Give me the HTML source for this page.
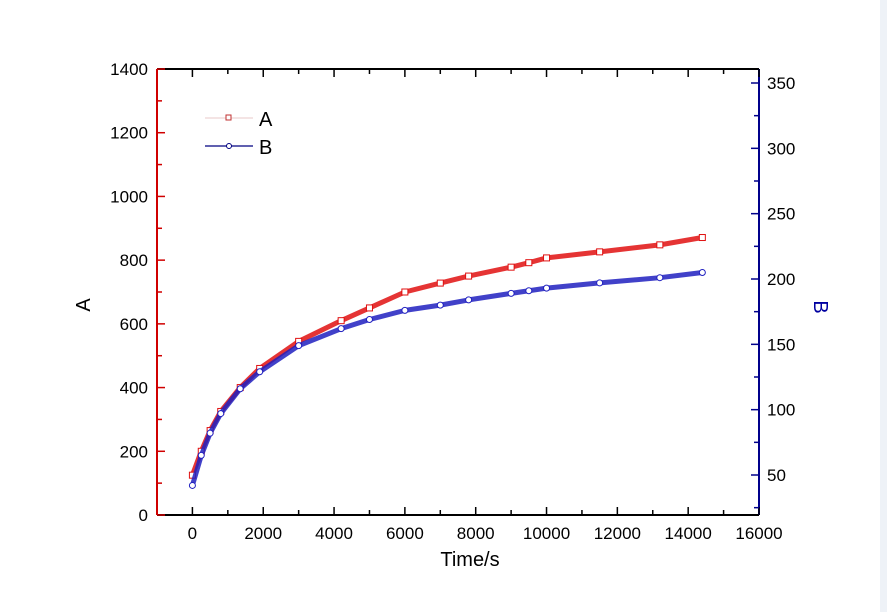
<!DOCTYPE html>
<html><head><meta charset="utf-8"><style>
body{margin:0;background:#fff;overflow:hidden;}
svg{display:block;}
svg text{font-family:"Liberation Sans",Arial,sans-serif;}
</style></head><body>
<svg id="chart" width="887" height="612" xmlns="http://www.w3.org/2000/svg">
<rect x="0" y="0" width="887" height="612" fill="#fff"/>
<rect x="880" y="0" width="7" height="612" fill="#eef2f7"/>
<g id="plot"></g>
</svg>
<script>
const times=[0,250,500,800,1350,1900,3000,4200,5000,6000,7000,7800,9000,9500,10000,11500,13200,14400];
const seriesA=[125,200,265,325,400,460,545,610,650,700,728,750,778,792,807,826,848,871];
const seriesB=[42,65,82,97,116,129,149,162,169,176,180,184,189,191,193,197,201,205];
const xTicks=[0,2000,4000,6000,8000,10000,12000,14000,16000];
const aTicks=[0,200,400,600,800,1000,1200,1400];
const bTicks=[50,100,150,200,250,300,350];
const L=157,R=759,T=69,B=515;
const X=v=>L+(v+1000)/17000*(R-L);
const YA=v=>B-v/1400*(B-T);
const YB=v=>475-(v-50)*(392/300);
const NS="http://www.w3.org/2000/svg";
const g=document.getElementById('plot');
function mk(t,a,p){const e=document.createElementNS(NS,t);for(const k in a)e.setAttribute(k,a[k]);(p||g).appendChild(e);return e;}
let e=mk('line',{x1:L,y1:T,x2:R,y2:T,stroke:'#000','stroke-width':2});


e=mk('line',{x1:L,y1:B,x2:R,y2:B,stroke:'#000','stroke-width':2});


e=mk('line',{x1:L,y1:T,x2:L,y2:B,stroke:'#d00000','stroke-width':2});


e=mk('line',{x1:R,y1:T,x2:R,y2:B,stroke:'#00008b','stroke-width':2});


xTicks.forEach((v,i)=>{
 const x=X(v);
 mk('line',{x1:x,y1:B,x2:x,y2:B-8,stroke:'#000','stroke-width':1.5});
 mk('line',{x1:x,y1:T,x2:x,y2:T+8,stroke:'#000','stroke-width':1.5});
 if(i!==xTicks.length-1){const xm=X(v+1000);
  mk('line',{x1:xm,y1:B,x2:xm,y2:B-5,stroke:'#000','stroke-width':1.5});
  mk('line',{x1:xm,y1:T,x2:xm,y2:T+5,stroke:'#000','stroke-width':1.5});}
 const t=mk('text',{x:x,y:B+24,'text-anchor':'middle','font-size':17,fill:'#000'});t.textContent=v;
 
 
});
aTicks.forEach((v,i)=>{
 const y=YA(v);
 mk('line',{x1:L,y1:y,x2:L+8,y2:y,stroke:'#d00000','stroke-width':1.5});
 if(i!==aTicks.length-1){const ym=YA(v+100);mk('line',{x1:L,y1:ym,x2:L+5,y2:ym,stroke:'#d00000','stroke-width':1.5});}
 const t=mk('text',{x:L-9,y:y+6,'text-anchor':'end','font-size':17,fill:'#000'});t.textContent=v;
 
 
});
bTicks.forEach(v=>{
 const y=YB(v);
 mk('line',{x1:R,y1:y,x2:R-8,y2:y,stroke:'#00008b','stroke-width':1.5});
 const ym=YB(v-25);mk('line',{x1:R,y1:ym,x2:R-5,y2:ym,stroke:'#00008b','stroke-width':1.5});
 const t=mk('text',{x:R+8,y:y+6,'text-anchor':'start','font-size':17,fill:'#000'});t.textContent=v;
 
 
});
e=mk('text',{x:470,y:566,'text-anchor':'middle','font-size':20,fill:'#000'});e.textContent='Time/s';


e=mk('text',{x:0,y:0,'text-anchor':'middle','font-size':20,fill:'#000',transform:'translate(90,305) rotate(-90)'});e.textContent='A';


e=mk('text',{x:0,y:0,'text-anchor':'middle','font-size':20,fill:'#0000a0',transform:'translate(814,307) rotate(90)'});e.textContent='B';


function series(vals,yf,col,name,sq){
 const pts=times.map((t,i)=>X(t)+','+yf(vals[i])).join(' ');
 let p=mk('polyline',{points:pts,fill:'none',stroke:col,'stroke-width':5,'stroke-linejoin':'round','stroke-linecap':'round','stroke-opacity':0.85});
 
 
 times.forEach((t,i)=>{
  let m;
  if(sq) m=mk('rect',{x:X(t)-3,y:yf(vals[i])-3,width:6,height:6,fill:'#fff',stroke:col,'stroke-width':1});
  else m=mk('circle',{cx:X(t),cy:yf(vals[i]),r:3,fill:'#fff',stroke:col,'stroke-width':1});
  
  
 });
}
series(seriesA,YA,'#e01010','series-a',true);
series(seriesB,YB,'#2020c0','series-b',false);
e=mk('line',{x1:205,y1:118,x2:253,y2:118,stroke:'#e8c8c8','stroke-width':1});


e=mk('rect',{x:226,y:115,width:5,height:5,fill:'#fff',stroke:'#c03030'});


e=mk('text',{x:259,y:126,'font-size':20,fill:'#000'});e.textContent='A';


e=mk('line',{x1:205,y1:146,x2:253,y2:146,stroke:'#000080','stroke-width':1.2});


e=mk('circle',{cx:229,cy:146,r:2.5,fill:'#fff',stroke:'#000080'});


e=mk('text',{x:259,y:154,'font-size':20,fill:'#000'});e.textContent='B';


</script>
</body></html>
